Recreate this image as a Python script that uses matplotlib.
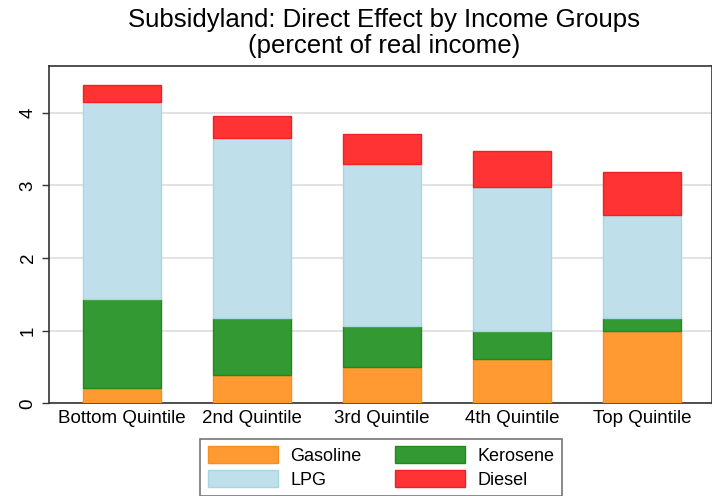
import matplotlib.pyplot as plt
import numpy as np

plt.rcParams['font.family'] = ['Liberation Sans', 'DejaVu Sans']

groups = ["Bottom Quintile", "2nd Quintile", "3rd Quintile", "4th Quintile", "Top Quintile"]
gasoline = [0.21, 0.39, 0.50, 0.61, 0.99]
kerosene = [1.23, 0.79, 0.57, 0.38, 0.19]
lpg = [2.71, 2.47, 2.22, 1.99, 1.41]
diesel = [0.24, 0.31, 0.42, 0.49, 0.59]

series = [
    ("Gasoline", gasoline, "#ff9a33", "#f98e20"),
    ("Kerosene", kerosene, "#339933", "#1f8a1f"),
    ("LPG", lpg, "#bfe0ea", "#aad5e2"),
    ("Diesel", diesel, "#ff3333", "#ee2222"),
]

fig = plt.figure(figsize=(7.12, 4.96), dpi=100)
ax = fig.add_axes([49 / 712, 1 - 403.3 / 496, (712 - 49) / 712, (403.3 - 66) / 496])

x = np.arange(len(groups))
bottom = np.zeros(len(groups))
handles = {}
for name, vals, fc, ec in series:
    b = ax.bar(x, vals, width=0.6, bottom=bottom, color=fc, edgecolor=ec,
               linewidth=1, label=name, zorder=3)
    handles[name] = b
    bottom += np.array(vals)

ax.set_xlim(-0.56, 4.54)
ax.set_ylim(0, 4.646)
ax.set_yticks([0, 1, 2, 3, 4])
ax.set_xticks(x)
ax.set_xticklabels(groups, fontsize=13.5)
for lbl in ax.get_yticklabels():
    lbl.set_rotation(90)
    lbl.set_va('center')
    lbl.set_fontsize(13.5)
ax.tick_params(axis='x', length=0, pad=5)
ax.tick_params(axis='y', length=5, width=1, color='#333333', pad=4)
ax.grid(axis='y', color='#dddddd', linewidth=1.2, zorder=0)
for s in ax.spines.values():
    s.set_color('#333333')
    s.set_linewidth(1.2)

fig.text(384 / 712, 1 - 20 / 496, "Subsidyland: Direct Effect by Income Groups",
         ha='center', va='center', fontsize=18.5)
fig.text(384 / 712, 1 - 46 / 496, "(percent of real income)",
         ha='center', va='center', fontsize=18.5)

order = ["Gasoline", "LPG", "Kerosene", "Diesel"]
leg = fig.legend([handles[n] for n in order], order, loc='upper center',
                 bbox_to_anchor=(381 / 712, 1 - 439 / 496), ncol=2, fontsize=13,
                 frameon=True, fancybox=False, edgecolor='#555555',
                 handlelength=3.9, handleheight=1.05, columnspacing=1.85,
                 borderpad=0.4, labelspacing=0.3, handletextpad=0.67,
                 borderaxespad=0)
leg.get_frame().set_linewidth(1.2)

fig.savefig("out.png", dpi=100)
